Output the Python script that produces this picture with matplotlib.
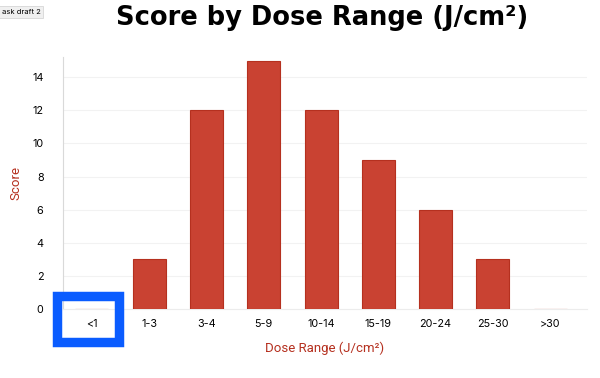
import matplotlib.pyplot as plt
from matplotlib.patches import Rectangle

categories = ['<1', '1-3', '3-4', '5-9', '10-14', '15-19', '20-24', '25-30', '>30']
scores = [0, 3, 12, 15, 12, 9, 6, 3, 0]
yticks = [0, 2, 4, 6, 8, 10, 12, 14]

plt.rcParams['font.family'] = ['Inter', 'DejaVu Sans']

fig = plt.figure(figsize=(6, 3.78), dpi=100)
ax = fig.add_axes([0.105, 0.1825, 0.873, 0.666])

ax.bar(range(len(categories)), scores, width=0.576, color='#c94232',
       edgecolor='#b5301f', linewidth=0.8, zorder=3)
ax.set_xlim(-0.506, 8.64)
ax.set_ylim(0, 15.2)
ax.set_xticks(range(len(categories)))
ax.set_xticklabels(categories, fontsize=7.8)
ax.set_yticks(yticks)
ax.set_yticklabels([str(v) for v in yticks], fontsize=7.8)
ax.tick_params(length=0)
ax.tick_params(axis='y', pad=14)
ax.tick_params(axis='x', pad=7)
ax.grid(axis='y', color='#f2f2f2', linewidth=0.8, zorder=0)
for s in ['top', 'right']:
    ax.spines[s].set_visible(False)
ax.spines['left'].set_color('#d9d9d9')
ax.spines['bottom'].set_color('#ececec')

ax.set_ylabel('Score', color='#b5301f', fontsize=9.5, labelpad=7, family='Roboto')
ax.set_xlabel('Dose Range (J/cm²)', color='#b5301f', fontsize=9.5, labelpad=9,
              family='Roboto')

fig.text(0.537, 0.952, 'Score by Dose Range (J/cm²)', ha='center', va='center',
         fontsize=18.5, fontweight='bold', family='DejaVu Sans')

# draft tag in the corner
fig.text(0.003, 0.968, 'ask draft 2', fontsize=5.5, va='center', ha='left',
         bbox=dict(boxstyle='square,pad=0.35', fc='#f0f0f0', ec='#d0d0d0', lw=0.5))

# blue highlight around the first category label
fig.patches.append(Rectangle((57 / 600, 1 - 342 / 378), 61.5 / 600, 46 / 378,
                             transform=fig.transFigure, fill=False,
                             edgecolor='#0a5cff', linewidth=6.8, zorder=10))

fig.savefig('out.png', dpi=100)
